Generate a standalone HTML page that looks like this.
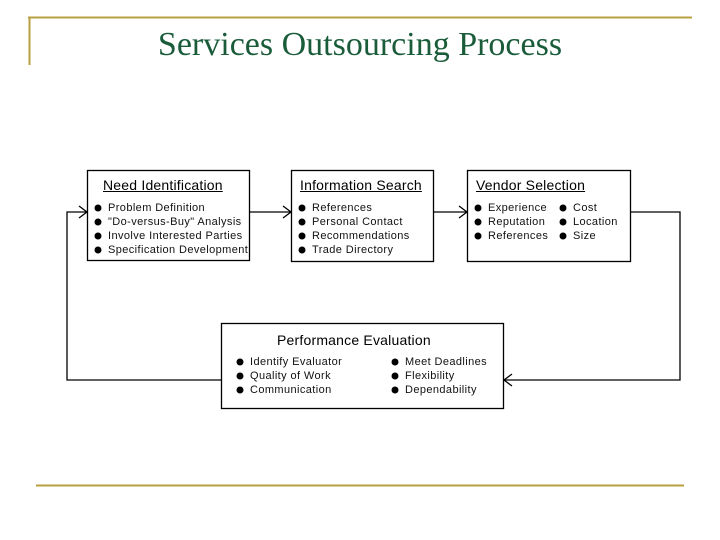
<!DOCTYPE html>
<html><head><style>
body{margin:0;width:720px;height:540px;background:#fff;position:relative;overflow:hidden;font-family:"Liberation Sans",sans-serif;}
.t{position:absolute;font-size:11px;color:#111;white-space:nowrap;line-height:14px;letter-spacing:0.4px;}
.h{position:absolute;font-size:14px;color:#000;white-space:nowrap;letter-spacing:0.2px;}
.u{text-decoration:underline;}
</style></head><body>
<svg width="720" height="540" style="position:absolute;left:0;top:0">
<line x1="28" y1="17.5" x2="692" y2="17.5" stroke="#b8a040" stroke-width="2"/>
<line x1="29.5" y1="17" x2="29.5" y2="65" stroke="#b8a040" stroke-width="2"/>
<line x1="36" y1="485.5" x2="684" y2="485.5" stroke="#b8a040" stroke-width="2"/>
<g fill="none" stroke="#000" stroke-width="1.3">
<rect x="87.5" y="170.5" width="162" height="90"/>
<rect x="291.5" y="170.5" width="142" height="91"/>
<rect x="467.5" y="170.5" width="163" height="91"/>
<rect x="221.5" y="323.5" width="282" height="85"/>
<polyline points="250,212 291,212"/><polyline points="283,206 291,212 283,218"/>
<polyline points="434,212 467,212"/><polyline points="459,206 467,212 459,218"/>
<polyline points="631,212 680,212 680,380 504,380"/><polyline points="512,374 504,380 512,386"/>
<polyline points="221,380 67,380 67,212 87,212"/><polyline points="79,206 87,212 79,218"/>
</g>
<g fill="#000">
<circle cx="98" cy="208" r="3.5"/><circle cx="98" cy="222" r="3.5"/><circle cx="98" cy="236" r="3.5"/><circle cx="98" cy="250" r="3.5"/>
<circle cx="302" cy="208" r="3.5"/><circle cx="302" cy="222" r="3.5"/><circle cx="302" cy="236" r="3.5"/><circle cx="302" cy="250" r="3.5"/>
<circle cx="478" cy="208" r="3.5"/><circle cx="478" cy="222" r="3.5"/><circle cx="478" cy="236" r="3.5"/>
<circle cx="563" cy="208" r="3.5"/><circle cx="563" cy="222" r="3.5"/><circle cx="563" cy="236" r="3.5"/>
<circle cx="240" cy="362" r="3.5"/><circle cx="240" cy="376" r="3.5"/><circle cx="240" cy="390" r="3.5"/>
<circle cx="395" cy="362" r="3.5"/><circle cx="395" cy="376" r="3.5"/><circle cx="395" cy="390" r="3.5"/>
</g>
</svg>
<div style="position:absolute;left:0;width:720px;top:26px;text-align:center;font-family:'Liberation Serif',serif;font-size:34px;color:#1a5c3a;">Services Outsourcing Process</div>
<div class="h u" style="left:103px;top:177px">Need Identification</div>
<div class="t" style="left:108px;top:201px">Problem Definition<br>"Do-versus-Buy" Analysis<br>Involve Interested Parties<br>Specification Development</div>
<div class="h u" style="left:300px;top:177px">Information Search</div>
<div class="t" style="left:312px;top:201px">References<br>Personal Contact<br>Recommendations<br>Trade Directory</div>
<div class="h u" style="left:476px;top:177px">Vendor Selection</div>
<div class="t" style="left:488px;top:201px">Experience<br>Reputation<br>References</div>
<div class="t" style="left:573px;top:201px">Cost<br>Location<br>Size</div>
<div class="h" style="left:277px;top:332px">Performance Evaluation</div>
<div class="t" style="left:250px;top:355px">Identify Evaluator<br>Quality of Work<br>Communication</div>
<div class="t" style="left:405px;top:355px">Meet Deadlines<br>Flexibility<br>Dependability</div>
</body></html>
